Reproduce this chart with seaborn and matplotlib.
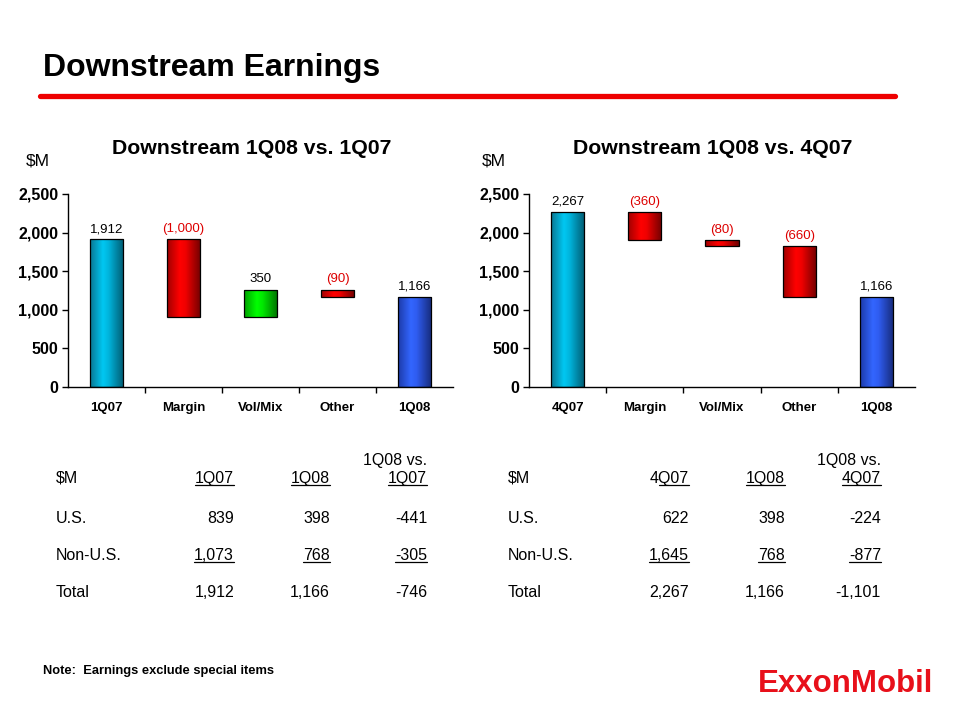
import numpy as np
import pandas as pd
import matplotlib
matplotlib.use("Agg")
import matplotlib.pyplot as plt
import seaborn as sns
from matplotlib.colors import LinearSegmentedColormap
from matplotlib.lines import Line2D

# ---------------- data ----------------
left_cats = ["1Q07", "Margin", "Vol/Mix", "Other", "1Q08"]
left_start = 1912
left_changes = [-1000, 350, -90]
left_end = 1166

right_cats = ["4Q07", "Margin", "Vol/Mix", "Other", "1Q08"]
right_start = 2267
right_changes = [-360, -80, -660]
right_end = 1166

y_ticks = [0, 500, 1000, 1500, 2000, 2500]

left_table_cols = ["1Q07", "1Q08", "1Q07"]
left_us = [839, 398, -441]
left_nonus = [1073, 768, -305]
left_total = [1912, 1166, -746]

right_table_cols = ["4Q07", "1Q08", "4Q07"]
right_us = [622, 398, -224]
right_nonus = [1645, 768, -877]
right_total = [2267, 1166, -1101]

# ---------------- style ----------------
sns.set_style("ticks")
plt.rcParams["font.family"] = ["Liberation Sans", "DejaVu Sans"]
plt.rcParams["text.color"] = "black"
plt.rcParams["axes.labelcolor"] = "black"
plt.rcParams["xtick.color"] = "black"
plt.rcParams["ytick.color"] = "black"
plt.rcParams["axes.edgecolor"] = "black"

RED_TXT = "#dd0000"
GRADS = {
    "start": ["#0a7590", "#00c8f2", "#00b4dc", "#005a70"],
    "neg": ["#a00000", "#ff0000", "#f00000", "#700000"],
    "pos": ["#00a000", "#00ff00", "#00e800", "#007000"],
    "end": ["#1c3aa8", "#3366ff", "#2f5cf0", "#162a78"],
}
BASE = {"start": "#00c8f2", "neg": "#ff0000", "pos": "#00ff00", "end": "#3366ff"}

fig = plt.figure(figsize=(9.6, 7.2), dpi=100)
W, H = 960.0, 720.0


def fx(px):
    return px / W


def fy(py):
    return 1 - py / H


def waterfall(ax, cats, start, changes, end):
    bottoms, heights, kinds, labels = [0], [start], ["start"], [f"{start:,}"]
    level = start
    for c in changes:
        bottoms.append(min(level, level + c))
        heights.append(abs(c))
        kinds.append("neg" if c < 0 else "pos")
        labels.append(f"({abs(c):,})" if c < 0 else f"{c:,}")
        level += c
    bottoms.append(0)
    heights.append(end)
    kinds.append("end")
    labels.append(f"{end:,}")
    df = pd.DataFrame({"cat": cats, "height": heights, "bottom": bottoms, "kind": kinds})
    palette = {c: BASE[k] for c, k in zip(cats, kinds)}
    sns.barplot(data=df, x="cat", y="height", hue="cat", palette=palette, legend=False,
                width=0.43, edgecolor="black", linewidth=0.9, saturation=1, ax=ax)
    grad = np.linspace(0, 1, 256).reshape(1, -1)
    for i, (patch, b, h, k, lab) in enumerate(zip(ax.patches, bottoms, heights, kinds, labels)):
        patch.set_y(b)
        x0, w = patch.get_x(), patch.get_width()
        cmap = LinearSegmentedColormap.from_list(
            k, list(zip([0, 0.38, 0.55, 1.0], GRADS[k])))
        im = ax.imshow(grad, cmap=cmap, extent=[x0, x0 + w, b, b + h], aspect="auto",
                       origin="lower", zorder=1.5, interpolation="bilinear")
        im.set_clip_path(patch)
        patch.set_facecolor("none")
        patch.set_zorder(2)
        color = RED_TXT if k == "neg" else "black"
        ax.annotate(lab, xy=(i, b + h), xytext=(0, 3), textcoords="offset points",
                    ha="center", va="bottom", fontsize=9.5, color=color)
    ax.set_xlim(-0.5, 4.5)
    ax.set_ylim(0, 2500)
    ax.set_yticks(y_ticks, labels=[f"{v:,}" for v in y_ticks])
    ax.set_xticks([0.5, 1.5, 2.5, 3.5], labels=[""] * 4)
    ax.set_xticks(range(len(cats)), labels=cats, minor=True)
    ax.tick_params(axis="x", which="major", length=4, width=1, direction="out", color="black")
    ax.tick_params(axis="x", which="minor", length=0, pad=11)
    ax.tick_params(axis="y", length=4, width=1, pad=3, color="black")
    for t in ax.get_xticklabels(minor=True):
        t.set_fontweight("bold")
        t.set_fontsize(9.5)
        t.set_color("black")
    for t in ax.get_yticklabels():
        t.set_fontweight("bold")
        t.set_fontsize(11.5)
        t.set_color("black")
    ax.set_xlabel("")
    ax.set_ylabel("")
    for s in ["top", "right"]:
        ax.spines[s].set_visible(False)
    for s in ["left", "bottom"]:
        ax.spines[s].set_color("black")
        ax.spines[s].set_linewidth(1)
    ax.set_facecolor("white")


ax1 = fig.add_axes([fx(68), fy(387), 385 / W, 193 / H])
waterfall(ax1, left_cats, left_start, left_changes, left_end)
ax2 = fig.add_axes([fx(529), fy(387), 386 / W, 193 / H])
waterfall(ax2, right_cats, right_start, right_changes, right_end)

# ---------------- titles ----------------
fig.text(fx(43), fy(68), "Downstream Earnings", fontsize=23, fontweight="bold",
         ha="left", va="center", color="black")
fig.add_artist(Line2D([fx(40), fx(895)], [fy(96), fy(96)], color="#ee0000", linewidth=3.8,
                      transform=fig.transFigure))
fig.text(fx(252), fy(148), "Downstream 1Q08 vs. 1Q07", fontsize=15.3, fontweight="bold",
         ha="center", va="center", color="black")
fig.text(fx(713), fy(148), "Downstream 1Q08 vs. 4Q07", fontsize=15.3, fontweight="bold",
         ha="center", va="center", color="black")
fig.text(fx(26), fy(161), "$M", fontsize=12.5, ha="left", va="center", parse_math=False,
         color="black")
fig.text(fx(482), fy(161), "$M", fontsize=12.5, ha="left", va="center", parse_math=False,
         color="black")

# ---------------- tables ----------------
underlines = []


def table(x_label, col_right, cols, us, nonus, total, partial_first=False):
    fs = 11.5
    fig.text(fx(x_label), fy(483), "$M", fontsize=fs, ha="left", va="baseline",
             parse_math=False)
    fig.text(fx(col_right[2]), fy(465), "1Q08 vs.", fontsize=fs, ha="right", va="baseline")
    for j, (xr, c) in enumerate(zip(col_right, cols)):
        t = fig.text(fx(xr), fy(483), c, fontsize=fs, ha="right", va="baseline")
        underlines.append((t, 483, partial_first and j == 0))
    rows = [("U.S.", us, 523, False), ("Non-U.S.", nonus, 560, True), ("Total", total, 597, False)]
    for name, vals, yb, ul in rows:
        fig.text(fx(x_label), fy(yb), name, fontsize=fs, ha="left", va="baseline")
        for xr, v in zip(col_right, vals):
            t = fig.text(fx(xr), fy(yb), f"{v:,}", fontsize=fs, ha="right", va="baseline")
            if ul:
                underlines.append((t, yb, False))


table(56, [234, 330, 427], left_table_cols, left_us, left_nonus, left_total)
table(508, [689, 785, 881], right_table_cols, right_us, right_nonus, right_total,
      partial_first=True)

fig.text(fx(43), fy(671), "Note:  Earnings exclude special items", fontsize=9.3,
         fontweight="bold", ha="left", va="center")
fig.text(fx(758), fy(684), "ExxonMobil", fontsize=22.5, fontweight="bold", color="#e8101a",
         ha="left", va="center")

renderer = fig.canvas.get_renderer()
for t, yb, partial in underlines:
    bb = t.get_window_extent(renderer)
    x0, x1 = bb.x0, bb.x1
    if partial:
        tmp = fig.text(0, 0, t.get_text()[1:], fontsize=t.get_fontsize())
        wpart = tmp.get_window_extent(renderer).width
        tmp.remove()
        x0 = x1 - wpart
    ypix = (H - yb - 2.0)
    fig.add_artist(Line2D([x0 / W, x1 / W], [ypix / H, ypix / H], color="black",
                          linewidth=0.9, transform=fig.transFigure))

fig.savefig("out.png", dpi=100, facecolor="white")
